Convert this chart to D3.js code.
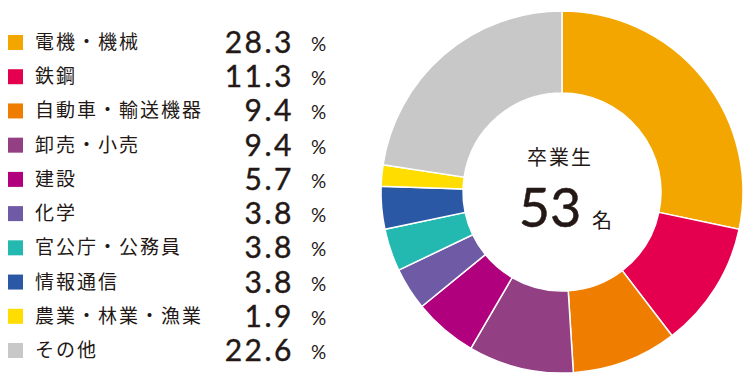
<!DOCTYPE html>
<html>
<head>
<meta charset="utf-8">
<script src="https://cdn.jsdelivr.net/npm/d3@7"></script>
<style>
  body { margin: 0; background: #fff; }
  text { fill: #231815; }
</style>
</head>
<body>
<div id="chart"></div>
<script>
// 業種別就職先の内訳
const categories = ["電機・機械", "鉄鋼", "自動車・輸送機器", "卸売・小売", "建設", "化学", "官公庁・公務員", "情報通信", "農業・林業・漁業", "その他"];
const shares = [28.3, 11.3, 9.4, 9.4, 5.7, 3.8, 3.8, 3.8, 1.9, 22.6];
const colors = ["#f3a500", "#e4004f", "#ee7d00", "#933f84", "#b0007e", "#6e5aa5", "#23b9b1", "#2b58a5", "#ffdd00", "#c8c8c8"];
const centerTitle = "卒業生";
const graduates = 53;
const unit = "名";

const width = 750, height = 384;
const cx = 562, cy = 192, outerR = 181, innerR = 99;

const svg = d3.select("#chart").append("svg")
   .attr("width", width)
   .attr("height", height)
   .attr("viewBox", "0 0 " + width + " " + height);

// legend
const rowY = d3.scalePoint()
   .domain(categories)
   .range([42, 350]);

const legend = svg.append("g").selectAll(".row")
   .data(categories)
   .enter()
   .append("g")
   .attr("class", "row")
   .attr("transform", d => "translate(0," + rowY(d) + ")");

legend.append("rect")
   .attr("x", 8)
   .attr("y", -7)
   .attr("width", 15)
   .attr("height", 15)
   .attr("fill", (d, i) => colors[i]);

legend.append("text")
   .attr("x", 35)
   .attr("y", 7)
   .attr("font-family", "'Noto Sans CJK JP', sans-serif")
   .attr("font-size", 19)
   .attr("letter-spacing", 2)
   .text(d => d);

legend.append("text")
   .attr("x", 294)
   .attr("y", 11)
   .attr("text-anchor", "end")
   .attr("font-family", "Lato, sans-serif")
   .attr("font-size", 30)
   .attr("letter-spacing", 2.5)
   .attr("stroke", "#231815")
   .attr("stroke-width", 0.4)
   .text((d, i) => shares[i].toFixed(1));

legend.append("text")
   .attr("x", 311)
   .attr("y", 9)
   .attr("font-family", "Lato, sans-serif")
   .attr("font-size", 19)
   .text("%");

// donut
const pie = d3.pie().sort(null).value(d => d);
const arc = d3.arc().innerRadius(innerR).outerRadius(outerR);

const donut = svg.append("g")
   .attr("transform", "translate(" + cx + "," + cy + ")");

donut.selectAll("path")
   .data(pie(shares))
   .enter()
   .append("path")
   .attr("d", arc)
   .attr("fill", (d, i) => colors[i])
   .attr("stroke", "#fff")
   .attr("stroke-width", 1.5);

donut.append("text")
   .attr("x", -2)
   .attr("y", -27)
   .attr("text-anchor", "middle")
   .attr("font-family", "'Noto Sans CJK JP', sans-serif")
   .attr("font-size", 20)
   .attr("letter-spacing", 2)
   .text(centerTitle);

donut.append("text")
   .attr("x", -12)
   .attr("y", 35)
   .attr("text-anchor", "middle")
   .attr("font-family", "Lato, sans-serif")
   .attr("font-size", 54)
   .attr("stroke", "#231815")
   .attr("stroke-width", 0.5)
   .text(graduates);

donut.append("text")
   .attr("x", 30)
   .attr("y", 36)
   .attr("font-family", "'Noto Sans CJK JP', sans-serif")
   .attr("font-size", 20)
   .text(unit);
</script>
</body>
</html>
